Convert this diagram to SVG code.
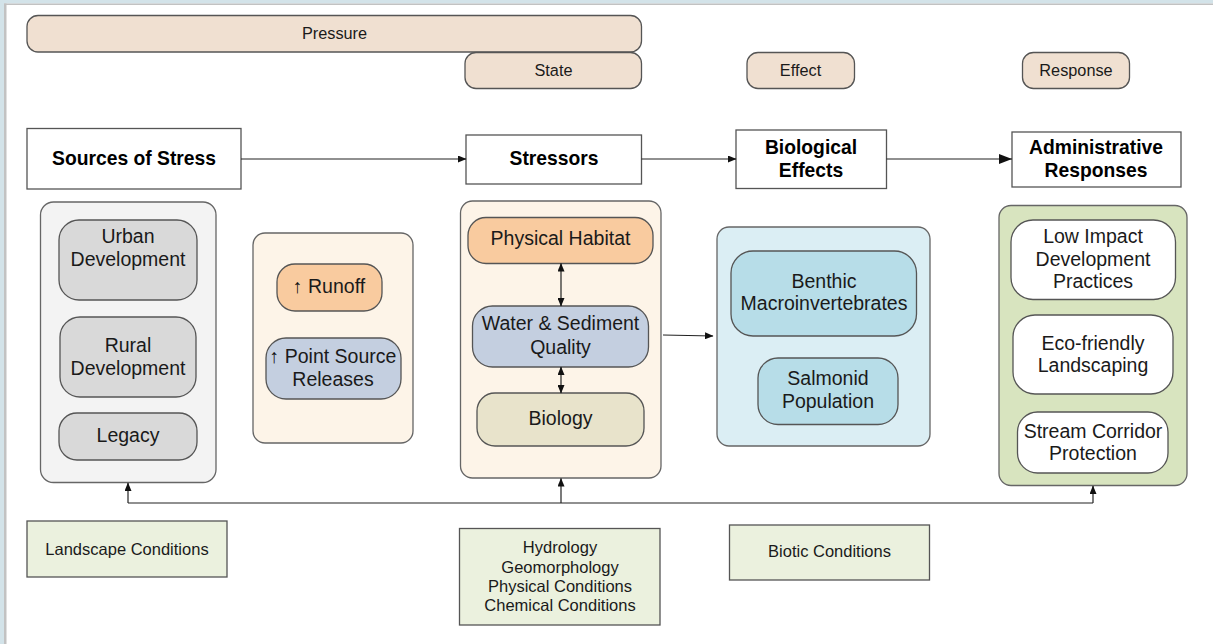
<svg xmlns="http://www.w3.org/2000/svg" width="1213" height="644" viewBox="0 0 1213 644">
<defs>
<marker id="ah" markerUnits="userSpaceOnUse" markerWidth="9" markerHeight="7" refX="8" refY="3.5" orient="auto-start-reverse"><path d="M0,0 L8.5,3.5 L0,7 z" fill="#111"/></marker>
<marker id="ahL" markerUnits="userSpaceOnUse" markerWidth="14" markerHeight="10" refX="13" refY="5" orient="auto"><path d="M0,0 L13,5 L0,10 z" fill="#111"/></marker>
</defs>
<style>
text{font-family:"Liberation Sans",Arial,sans-serif;fill:#1a1a1a;text-anchor:middle}
.n{font-size:19.5px}
.h{font-size:19.3px;font-weight:bold;fill:#000}
.s{font-size:16.3px}
.b{font-size:16.5px}
.box{fill:#fff;stroke:#555;stroke-width:1.3}
.tag{fill:#f0e0d1;stroke:#555;stroke-width:1.3}
.grp{stroke:#666;stroke-width:1.3}
.nd{stroke:#555;stroke-width:1.3}
.cond{fill:#ebf1de;stroke:#555;stroke-width:1.3}
.c{stroke:#222;stroke-width:1.2;fill:none}
.ar{fill:#111}
</style>
<rect x="0" y="0" width="1213" height="644" fill="#fff"/>
<rect x="0" y="0" width="1213" height="3.5" fill="#d3e3e9"/>
<rect x="0" y="0" width="4" height="644" fill="#d3e3e9"/>
<rect x="4" y="3.5" width="1209" height="1.5" fill="#c2c2c2"/>
<rect x="4" y="3.5" width="2.5" height="640.5" fill="#c2c2c2"/>

<g id="pressure"><rect class="tag" x="27" y="15.5" width="614.5" height="36.5" rx="11"/><text class="s" x="334.5" y="38.5">Pressure</text></g>
<g id="state"><rect class="tag" x="465" y="52.5" width="176.5" height="36" rx="11"/><text class="s" x="553.5" y="75.5">State</text></g>
<g id="effect"><rect class="tag" x="747" y="52.5" width="107.5" height="36" rx="11"/><text class="s" x="800.5" y="75.5">Effect</text></g>
<g id="response"><rect class="tag" x="1022.5" y="52.5" width="107" height="36" rx="11"/><text class="s" x="1076" y="75.5">Response</text></g>

<g id="sources"><rect class="box" x="27" y="128.5" width="214" height="60.5"/><text class="h" x="134" y="165">Sources of Stress</text></g>
<g id="stressors"><rect class="box" x="466" y="135" width="175.5" height="49"/><text class="h" x="554" y="165">Stressors</text></g>
<g id="bio-effects"><rect class="box" x="736" y="130" width="150.5" height="58.5"/><text class="h" x="811" y="154">Biological</text><text class="h" x="811" y="176.5">Effects</text></g>
<g id="admin"><rect class="box" x="1012" y="132" width="169" height="55"/><text class="h" x="1096" y="154">Administrative</text><text class="h" x="1096" y="176.5">Responses</text></g>

<g id="sources-group"><rect class="grp" x="40.5" y="202" width="175.5" height="280.5" rx="13" fill="#f3f3f3"/></g>
<g id="urban"><rect class="nd" x="59" y="220" width="138" height="80" rx="20" fill="#d9d9d9"/><text class="n" x="128" y="243">Urban</text><text class="n" x="128" y="266">Development</text></g>
<g id="rural"><rect class="nd" x="60" y="317" width="136" height="80" rx="20" fill="#d9d9d9"/><text class="n" x="128" y="352">Rural</text><text class="n" x="128" y="375">Development</text></g>
<g id="legacy"><rect class="nd" x="59" y="413" width="138" height="47" rx="18" fill="#d9d9d9"/><text class="n" x="128" y="442">Legacy</text></g>

<g id="runoff-group"><rect class="grp" x="253" y="233" width="160" height="210" rx="12" fill="#fdf4e8"/></g>
<g id="runoff"><rect class="nd" x="277" y="264" width="105" height="47" rx="18" fill="#f9cb9f"/><text class="n" x="329" y="293"><tspan class="ar">↑</tspan> Runoff</text></g>
<g id="point-source"><rect class="nd" x="266" y="338" width="135" height="61" rx="20" fill="#c4cfe0"/><text class="n" x="333" y="363"><tspan class="ar">↑</tspan> Point Source</text><text class="n" x="333" y="386">Releases</text></g>

<g id="stressors-group"><rect class="grp" x="460.5" y="201" width="200.5" height="277" rx="12" fill="#fdf4e8"/></g>
<g id="physical-habitat"><rect class="nd" x="468" y="217.5" width="185" height="46" rx="18" fill="#f9cb9f"/><text class="n" x="560.5" y="245">Physical Habitat</text></g>
<g id="water-quality"><rect class="nd" x="472.5" y="306" width="176" height="61" rx="20" fill="#c4cfe0"/><text class="n" x="560.5" y="330">Water &amp; Sediment</text><text class="n" x="560.5" y="353.5">Quality</text></g>
<g id="biology"><rect class="nd" x="477" y="393" width="167" height="53" rx="18" fill="#e8e3cb"/><text class="n" x="560.5" y="425">Biology</text></g>

<g id="bio-group"><rect class="grp" x="717" y="227" width="213" height="219" rx="12" fill="#dbeef4"/></g>
<g id="benthic"><rect class="nd" x="731" y="251" width="185.5" height="85" rx="22" fill="#b7dde8"/><text class="n" x="824" y="287.5">Benthic</text><text class="n" x="824" y="310">Macroinvertebrates</text></g>
<g id="salmonid"><rect class="nd" x="758" y="358" width="140" height="66.5" rx="20" fill="#b7dde8"/><text class="n" x="828" y="385">Salmonid</text><text class="n" x="828" y="407.5">Population</text></g>

<g id="admin-group"><rect class="grp" x="999" y="205.5" width="188" height="280" rx="12" fill="#d8e4bf"/></g>
<g id="lid"><rect class="nd" x="1011" y="220" width="164.5" height="79.5" rx="22" fill="#fff"/><text class="n" x="1093" y="242.5">Low Impact</text><text class="n" x="1093" y="265.5">Development</text><text class="n" x="1093" y="288">Practices</text></g>
<g id="eco"><rect class="nd" x="1013" y="315" width="160" height="79" rx="22" fill="#fff"/><text class="n" x="1093" y="349.5">Eco-friendly</text><text class="n" x="1093" y="372">Landscaping</text></g>
<g id="stream"><rect class="nd" x="1017.5" y="412" width="150.5" height="61" rx="20" fill="#fff"/><text class="n" x="1093" y="437.5">Stream Corridor</text><text class="n" x="1093" y="460">Protection</text></g>

<g id="landscape"><rect class="cond" x="27" y="521" width="200" height="56"/><text class="b" x="127" y="555">Landscape Conditions</text></g>
<g id="physical-conditions"><rect class="cond" x="459.5" y="528.5" width="200.5" height="96.5"/><text class="b" x="560" y="553">Hydrology</text><text class="b" x="560" y="572.5">Geomorphology</text><text class="b" x="560" y="591.5">Physical Conditions</text><text class="b" x="560" y="610.5">Chemical Conditions</text></g>
<g id="biotic"><rect class="cond" x="729.5" y="525" width="200" height="55"/><text class="b" x="829.5" y="557">Biotic Conditions</text></g>

<g id="connectors">
<line class="c" x1="241" y1="159" x2="466" y2="159" marker-end="url(#ah)"/>
<line class="c" x1="641.5" y1="159" x2="736" y2="159" marker-end="url(#ah)"/>
<line class="c" x1="886.5" y1="159" x2="1012" y2="159" marker-end="url(#ahL)"/>
<line class="c" x1="663" y1="335" x2="713" y2="336" marker-end="url(#ah)"/>
<line class="c" x1="561" y1="263.5" x2="561" y2="306" marker-start="url(#ah)" marker-end="url(#ah)"/>
<line class="c" x1="561" y1="367" x2="561" y2="393" marker-start="url(#ah)" marker-end="url(#ah)"/>
<polyline class="c" points="128,503 1093,503"/>
<line class="c" x1="128" y1="503" x2="128" y2="483" marker-end="url(#ah)"/>
<line class="c" x1="561" y1="503" x2="561" y2="478.5" marker-end="url(#ah)"/>
<line class="c" x1="1093" y1="503" x2="1093" y2="486" marker-end="url(#ah)"/>
</g>
</svg>
